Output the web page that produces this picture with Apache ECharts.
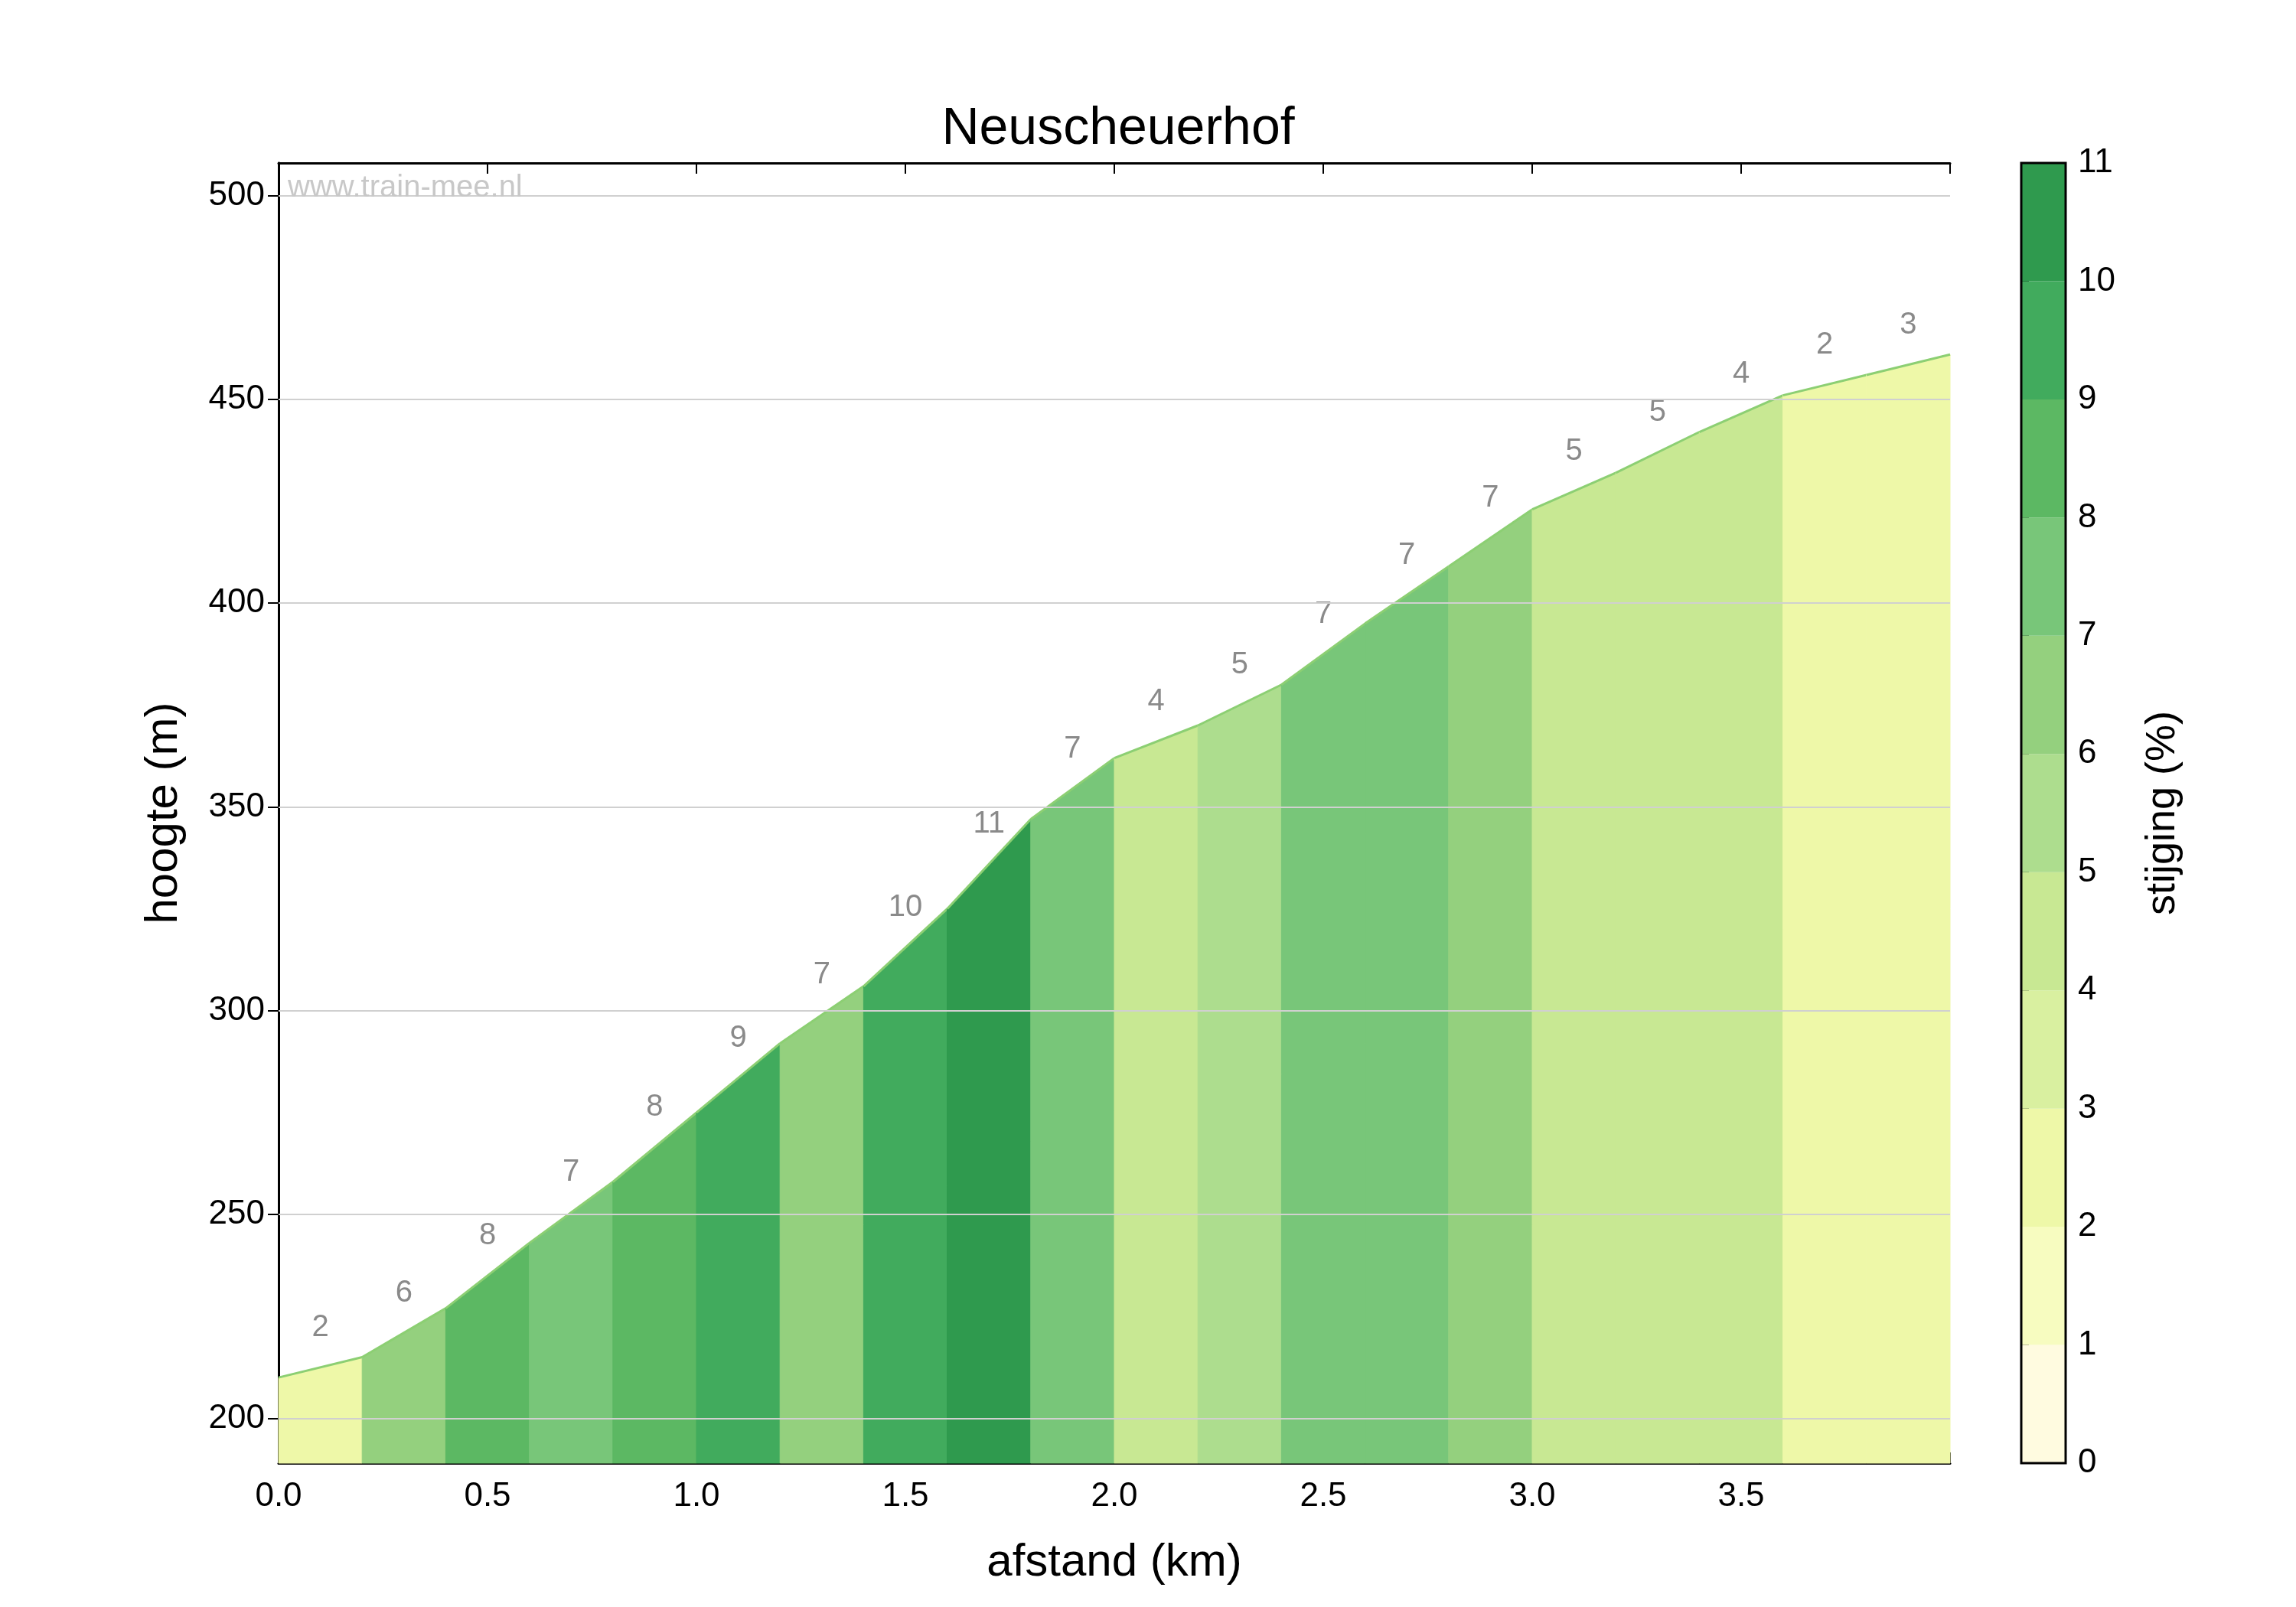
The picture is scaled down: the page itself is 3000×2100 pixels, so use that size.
<!DOCTYPE html>
<html><head><meta charset="utf-8">
<script src="https://cdn.jsdelivr.net/npm/echarts@6/dist/echarts.min.js"></script>
<style>html,body{margin:0;background:#fff}#c{width:3000px;height:2100px}</style>
</head><body><div id="c"></div>
<script>
const distances = [0,0.2,0.4,0.6,0.8,1.0,1.2,1.4,1.6,1.8,2.0,2.2,2.4,2.6,2.8,3.0,3.2,3.4,3.6,3.8,4.0];
const heights = [210,215,227,243,258,275,292,306,325,347,362,370,380,395,409,423,432,442,451,456,461];
const grades = [2,6,8,7,8,9,7,10,11,7,4,5,7,7,7,5,5,4,2,3];
const gradeBand = [2,6,8,7,8,9,6,9,10,7,4,5,7,7,6,4,4,4,2,2];
const bandColors = ['#fffbe0','#f7fcc0','#eef8a8','#d9f0a0','#c8e893','#addd8e','#94d07e','#78c679','#5cb863','#41ab5d','#2f9a4e'];
const yTicks = [200,250,300,350,400,450,500];
const barTicks = [0,1,2,3,4,5,6,7,8,9,10,11];

const segs = grades.map((g,i)=>[distances[i],distances[i+1],heights[i],heights[i+1],g,gradeBand[i]]);
const bands = bandColors.map((c,i)=>[i,i+1]);
const F = 'Liberation Sans, Arial, sans-serif';
const lab = {fontSize:44,color:'#000',fontFamily:F};
const chart = echarts.init(document.getElementById('c'));
chart.setOption({
  animation:false,
  title:{text:'Neuscheuerhof',left:1456,top:130,textAlign:'center',textStyle:{fontSize:68,fontWeight:'normal',fontFamily:F,color:'#000'}},
  graphic:[{type:'text',left:376,top:226,style:{text:'www.train-mee.nl',fontSize:40,fill:'#c8c8c8',fontFamily:F},z:100}],
  grid:[{left:364,right:452,top:213,bottom:188},{left:2641,width:58,top:213,bottom:188}],
  xAxis:[{type:'value',gridIndex:0,min:0,max:4,interval:0.5,name:'afstand (km)',nameLocation:'middle',nameGap:100,
      nameTextStyle:{fontSize:60,fontFamily:F,color:'#000'},
      axisLine:{lineStyle:{color:'#000',width:3}},axisTick:{inside:true,length:14,lineStyle:{color:'#000',width:2}},
      axisLabel:Object.assign({margin:22,formatter:v=>v>=4?'':v.toFixed(1)},lab),splitLine:{show:false}},
    {type:'value',gridIndex:0,position:'top',min:0,max:4,interval:0.5,axisLine:{lineStyle:{color:'#000',width:3}},
      axisTick:{inside:true,length:14,lineStyle:{color:'#000',width:2}},axisLabel:{show:false},splitLine:{show:false}},
    {type:'value',gridIndex:1,min:0,max:1,show:false}],
  yAxis:[{type:'value',gridIndex:0,min:189,max:508,name:'hoogte (m)',nameLocation:'middle',nameGap:120,nameRotate:90,
      nameTextStyle:{fontSize:60,fontFamily:F,color:'#000'},
      axisLine:{lineStyle:{color:'#000',width:3}},axisTick:{inside:true,length:14,customValues:yTicks,lineStyle:{color:'#000',width:2}},
      axisLabel:Object.assign({margin:18,customValues:yTicks},lab),splitLine:{show:false}},
    {type:'value',gridIndex:0,position:'right',min:189,max:508,axisLine:{lineStyle:{color:'#000',width:3}},
      axisTick:{inside:true,length:14,customValues:yTicks,lineStyle:{color:'#000',width:2}},axisLabel:{show:false},splitLine:{show:false}},
    {type:'value',gridIndex:1,position:'right',min:0,max:11,interval:1,name:'stijging (%)',nameLocation:'middle',nameGap:100,nameRotate:90,
      nameTextStyle:{fontSize:54,fontFamily:F,color:'#000'},
      axisLine:{show:false},axisTick:{length:10,lineStyle:{color:'#000',width:2}},axisLabel:Object.assign({margin:16},lab),splitLine:{show:false}}],
  series:[
    {type:'custom',xAxisIndex:0,yAxisIndex:0,data:segs,z:2,
      renderItem:(p,api)=>{
        const x0=api.value(0),x1=api.value(1),y0=api.value(2),y1=api.value(3),g=api.value(4),bi=api.value(5);
        const a=api.coord([x0,189]),b=api.coord([x1,189]),c=api.coord([x1,y1]),d=api.coord([x0,y0]);
        const m=api.coord([(x0+x1)/2,(y0+y1)/2]);
        return {type:'group',children:[
          {type:'polygon',shape:{points:[a,b,c,d]},style:{fill:bandColors[bi],stroke:bandColors[bi],lineWidth:1}},
          {type:'line',shape:{x1:d[0],y1:d[1],x2:c[0],y2:c[1]},style:{stroke:'#8ccf73',lineWidth:3}},
          {type:'text',x:m[0],y:m[1]-52,style:{text:String(g),fontSize:40,fill:'#8a8a8a',fontFamily:F,align:'center',verticalAlign:'middle'}}
        ]};
      },
      markLine:{silent:true,symbol:'none',label:{show:false},z:5,lineStyle:{color:'#d0d0d0',width:2,type:'solid'},
        data:yTicks.map(v=>({yAxis:v}))}},
    {type:'custom',xAxisIndex:2,yAxisIndex:2,data:bands,
      renderItem:(p,api)=>{
        const lo=api.value(0),hi=api.value(1);
        const a=api.coord([0,lo]),b=api.coord([1,hi]);
        return {type:'rect',shape:{x:a[0],y:b[1],width:b[0]-a[0],height:a[1]-b[1]},style:{fill:bandColors[lo]}};
      }},
    {type:'custom',xAxisIndex:2,yAxisIndex:2,data:[[0]],z:10,
      renderItem:(p,api)=>{const a=api.coord([0,0]),b=api.coord([1,11]);
        return {type:'rect',shape:{x:a[0],y:b[1],width:b[0]-a[0],height:a[1]-b[1]},style:{fill:'none',stroke:'#000',lineWidth:3}};}}
  ]
});
</script></body></html>
